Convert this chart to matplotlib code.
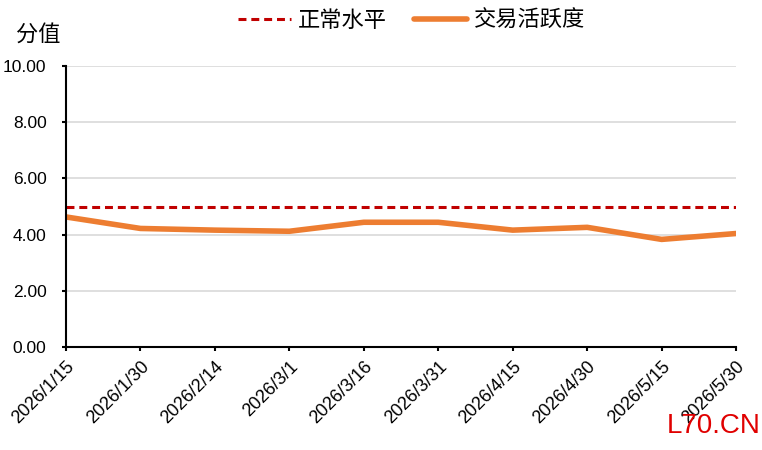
import matplotlib.pyplot as plt
import matplotlib.transforms as mtransforms
import pandas as pd

plt.rcParams['font.family'] = ['Liberation Sans', 'Noto Sans CJK SC', 'DejaVu Sans']

dates = pd.to_datetime(['2026-01-15', '2026-01-30', '2026-02-14', '2026-03-01', '2026-03-16',
                        '2026-03-31', '2026-04-15', '2026-04-30', '2026-05-15', '2026-05-30'])
date_labels = ['2026/1/15', '2026/1/30', '2026/2/14', '2026/3/1', '2026/3/16',
               '2026/3/31', '2026/4/15', '2026/4/30', '2026/5/15', '2026/5/30']
activity = [4.63, 4.22, 4.16, 4.12, 4.44, 4.44, 4.16, 4.26, 3.83, 4.04]
normal = [5.0] * len(dates)

fig = plt.figure(figsize=(7.62, 4.5), dpi=100)
ax = fig.add_axes([0.0866, 0.229, 0.8794, 0.624])

ax.plot(dates, normal, color='#C00000', lw=2.2, linestyle=(0, (2.6, 1.6)), label='正常水平')
ax.plot(dates, activity, color='#ED7D31', lw=4, solid_capstyle='round', label='交易活跃度')

ax.set_xlim(dates[0], dates[-1])
ax.set_ylim(0, 10)
ax.set_yticks([0, 2, 4, 6, 8, 10])
ax.set_yticklabels(['%.2f' % v for v in [0, 2, 4, 6, 8, 10]], fontsize=12.5)
ax.set_xticks(dates)
ax.set_xticklabels(date_labels, rotation=45, ha='right', va='top', rotation_mode='anchor', fontsize=13)
offset = mtransforms.ScaledTranslation(6 / 72, 0, fig.dpi_scale_trans)
for lbl in ax.get_xticklabels():
    lbl.set_transform(lbl.get_transform() + offset)

ax.grid(axis='y', color='#d9d9d9', lw=1.2)
ax.set_axisbelow(True)
for s in ['top', 'right']:
    ax.spines[s].set_visible(False)
ax.spines['left'].set_linewidth(1.5)
ax.spines['bottom'].set_linewidth(1.5)
ax.tick_params(axis='both', direction='out', length=3, width=1.5)
ax.tick_params(axis='y', pad=11)
ax.tick_params(axis='x', pad=5)

fig.text(0.021, 0.922, '分值', fontsize=16, ha='left', va='center')
fig.legend(loc='center', bbox_to_anchor=(0.54, 0.952), ncol=2, frameon=False,
           fontsize=16, handlelength=2.4, handletextpad=0.3, columnspacing=1.2)
fig.text(0.998, 0.025, 'L70.CN', fontsize=20, color='#E00000', ha='right', va='bottom')

fig.savefig('out.png', dpi=100)
